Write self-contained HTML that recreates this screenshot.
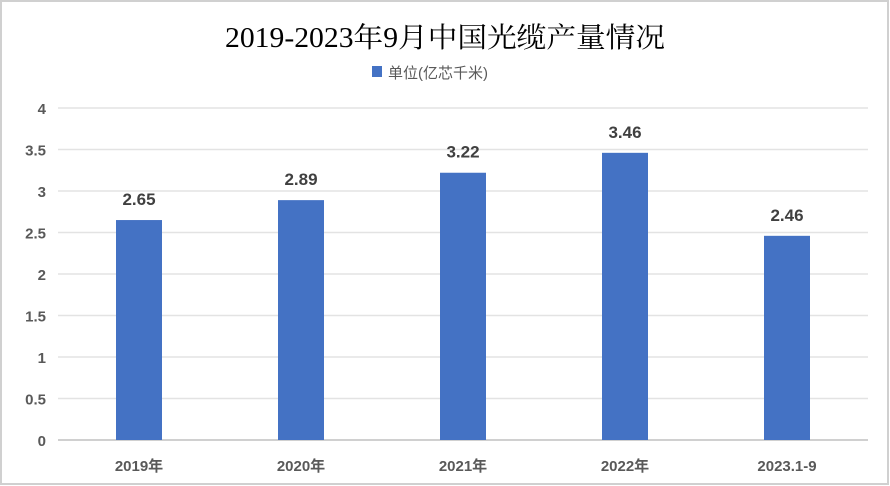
<!DOCTYPE html>
<html><head><meta charset="utf-8"><style>
html,body{margin:0;padding:0;background:#fff;}
svg{display:block;}
</style></head><body>
<svg id="chart" width="890" height="486" xmlns="http://www.w3.org/2000/svg">
<rect x="1" y="1" width="887" height="483" fill="#fff" stroke="#d0d0d0" stroke-width="2"/>
<text x="445" y="47" text-anchor="middle" font-family="'Liberation Serif','Noto Serif CJK SC',serif" font-size="28" fill="#000" textLength="440" lengthAdjust="spacingAndGlyphs">2019-2023年9月中国光缆产量情况</text>
<g>
<rect x="372" y="66" width="10" height="11" fill="#4472c4"/>
<text x="388" y="78" font-family="'Liberation Sans','Noto Sans CJK SC',sans-serif" font-size="15" fill="#595959">单位(亿芯千米)</text>
</g>
<g id="grid"></g><g id="bars"></g><g id="labels"></g>
</svg>
<script>
const categories=["2019年","2020年","2021年","2022年","2023.1-9"];
const values=[2.65,2.89,3.22,3.46,2.46];
const valueLabels=["2.65","2.89","3.22","3.46","2.46"];
const yTicks=[0,0.5,1,1.5,2,2.5,3,3.5,4];
const NS="http://www.w3.org/2000/svg";
const x0=58,x1=868,yBase=440,yTop=108,yMax=4;
const y=v=>yBase-(yBase-yTop)*v/yMax;
const band=(x1-x0)/categories.length;
const xc=i=>x0+band*(i+0.5);
const barW=46;
function mk(tag,attrs,parent){const e=document.createElementNS(NS,tag);for(const k in attrs)e.setAttribute(k,attrs[k]);parent.appendChild(e);return e;}
const grid=document.getElementById('grid'),bars=document.getElementById('bars'),labels=document.getElementById('labels');
const font="'Liberation Sans','Noto Sans CJK SC',sans-serif";
yTicks.forEach(t=>{
 const l=mk('line',{x1:x0,x2:x1,y1:y(t),y2:y(t),stroke:t===0?'#d0d0d0':'#e3e3e3','stroke-width':t===0?2:1.5},grid);
 
 
 const tx=mk('text',{x:46,y:y(t)+6,'text-anchor':'end','font-family':font,'font-size':15,'font-weight':'bold',fill:'#595959'},grid);
 tx.textContent=String(t);
 
 
});
categories.forEach((c,i)=>{
 const r=mk('rect',{x:xc(i)-barW/2,y:y(values[i]),width:barW,height:yBase-y(values[i]),fill:'#4472c4'},bars);
 
 
 const vl=mk('text',{x:xc(i),y:y(values[i])-15,'text-anchor':'middle','font-family':font,'font-size':17,'font-weight':'bold',fill:'#404040'},labels);
 vl.textContent=valueLabels[i];
 
 
 const cl=mk('text',{x:xc(i),y:471,'text-anchor':'middle','font-family':font,'font-size':15,'font-weight':'bold',fill:'#595959'},labels);
 cl.textContent=c;
 
 
});
</script>
</body></html>
